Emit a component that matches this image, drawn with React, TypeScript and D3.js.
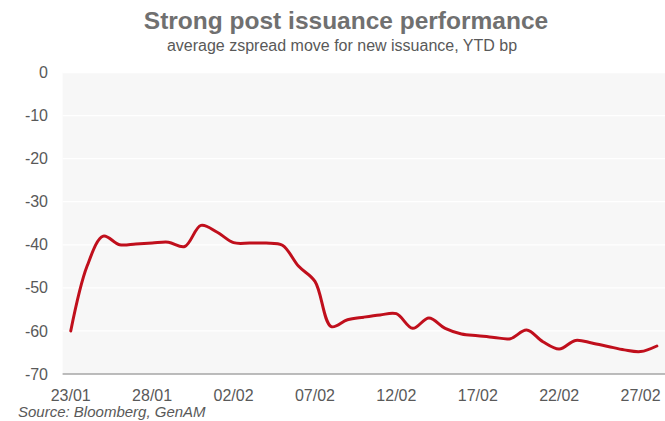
import React from "react";
import * as d3 from "d3";

// Daily observation dates (day/month)
const dates: string[] = [
  "2023-01-23", "2023-01-24", "2023-01-25", "2023-01-26", "2023-01-27", "2023-01-28",
  "2023-01-29", "2023-01-30", "2023-01-31", "2023-02-01", "2023-02-02", "2023-02-03",
  "2023-02-04", "2023-02-05", "2023-02-06", "2023-02-07", "2023-02-08", "2023-02-09",
  "2023-02-10", "2023-02-11", "2023-02-12", "2023-02-13", "2023-02-14", "2023-02-15",
  "2023-02-16", "2023-02-17", "2023-02-18", "2023-02-19", "2023-02-20", "2023-02-21",
  "2023-02-22", "2023-02-23", "2023-02-24", "2023-02-25", "2023-02-26", "2023-02-27",
  "2023-02-28",
];

// Average z-spread move for new issuance, bp
const zspreadMove: number[] = [
  -60, -45, -38, -40, -39.8, -39.6, -39.4, -40.4, -35.5, -37.1, -39.5, -39.6,
  -39.6, -40.1, -45, -48.5, -59, -57.4, -56.8, -56.3, -56, -59.4, -57, -59.4,
  -60.7, -61.1, -61.5, -61.8, -59.8, -62.5, -64.2, -62.2, -62.8, -63.6, -64.4,
  -64.8, -63.5,
];

const yTicks: number[] = [0, -10, -20, -30, -40, -50, -60, -70];
const xTickDates: string[] = [
  "2023-01-23", "2023-01-28", "2023-02-02", "2023-02-07",
  "2023-02-12", "2023-02-17", "2023-02-22", "2023-02-27",
];

const title = "Strong post issuance performance";
const subtitle = "average zspread move for new issuance, YTD bp";
const source = "Source: Bloomberg, GenAM";

const W = 665;
const H = 421;
const plot = { left: 62.6, right: 665, top: 72.5, bottom: 374 };
const font = "'Liberation Sans', Arial, Helvetica, sans-serif";
const textGray = "#595959";

const parse = d3.timeParse("%Y-%m-%d");
const fmt = d3.timeFormat("%d/%m");

export default function App() {
  const pts = dates.map((d, i) => ({ date: parse(d) as Date, v: zspreadMove[i] }));
  const first = pts[0].date;
  const last = pts[pts.length - 1].date;

  const x = d3
    .scaleTime()
    .domain([d3.timeHour.offset(first, -12), d3.timeHour.offset(last, 12)])
    .range([plot.left, plot.right]);
  const y = d3.scaleLinear().domain([-70, 0]).range([plot.bottom, plot.top]);

  const line = d3
    .line<{ date: Date; v: number }>()
    .x((p) => x(p.date))
    .y((p) => y(p.v))
    .curve(d3.curveCatmullRom.alpha(0.5));

  return (
    <svg
      width={W}
      height={H}
      style={{ position: "absolute", left: 0, top: 0, display: "block", background: "#fff" }}
      fontFamily={font}
    >
      <text x={346} y={29} textAnchor="middle" fontSize={24.5} fontWeight="bold" fill="#707070">
        {title}
      </text>
      <text x={342} y={51} textAnchor="middle" fontSize={16} fill={textGray}>
        {subtitle}
      </text>

      <rect
        x={plot.left}
        y={plot.top}
        width={plot.right - plot.left}
        height={plot.bottom - plot.top}
        fill="#f7f7f7"
      />
      {yTicks.filter((t) => t > -70).map((t) => (
        <line
          key={`g${t}`}
          x1={plot.left}
          x2={plot.right}
          y1={y(t)}
          y2={y(t)}
          stroke="#ffffff"
          strokeWidth={1.3}
        />
      ))}
      <line
        x1={plot.left}
        x2={plot.right}
        y1={plot.bottom}
        y2={plot.bottom}
        stroke="#a6a6a6"
        strokeWidth={1.5}
      />

      {yTicks.map((t) => (
        <text
          key={`y${t}`}
          x={48}
          y={y(t)}
          dy="0.35em"
          textAnchor="end"
          fontSize={16}
          fill={textGray}
        >
          {t}
        </text>
      ))}
      {xTickDates.map((d) => {
        const dt = parse(d) as Date;
        return (
          <text
            key={`x${d}`}
            x={x(dt)}
            y={400.5}
            textAnchor="middle"
            fontSize={16}
            fill={textGray}
          >
            {fmt(dt)}
          </text>
        );
      })}

      <path
        d={line(pts) ?? ""}
        fill="none"
        stroke="#c00f1c"
        strokeWidth={3}
        strokeLinejoin="round"
        strokeLinecap="round"
      />

      <text x={18} y={417} fontSize={15} fontStyle="italic" fill={textGray}>
        {source}
      </text>
    </svg>
  );
}
